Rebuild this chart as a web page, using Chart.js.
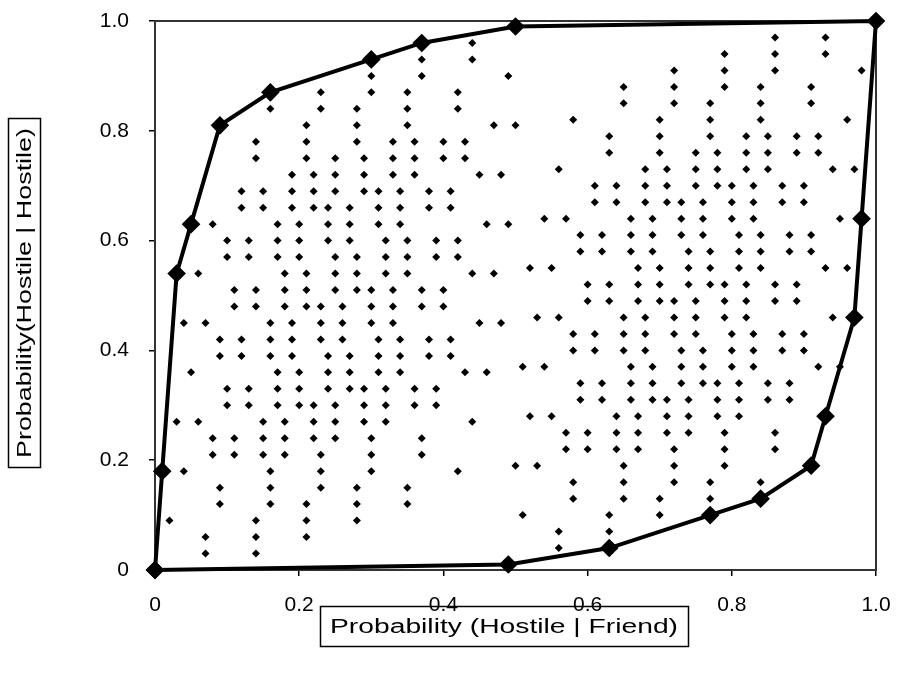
<!DOCTYPE html>
<html lang="en">
<head>
  <meta charset="UTF-8">
  <title>ROC points and convex hull</title>
  <script src="https://cdn.jsdelivr.net/npm/chart.js"></script>
  <style>
    body { margin: 0; background: #fff; }
    #wrap { width: 899px; height: 677px; position: relative; }
  </style>
</head>
<body>
  <div id="wrap"><canvas id="roc"></canvas></div>

  <script>
    // each row: one y level and the x values of the dots sitting on it
    const rowY = [0.97, 0.96, 0.94, 0.93, 0.91, 0.90, 0.88, 0.87, 0.85, 0.84, 0.82, 0.81, 0.79, 0.78,
      0.76, 0.75, 0.73, 0.72, 0.70, 0.69, 0.67, 0.66, 0.64, 0.63, 0.61, 0.60, 0.58, 0.57, 0.55, 0.54,
      0.52, 0.51, 0.49, 0.48, 0.46, 0.45, 0.43, 0.42, 0.40, 0.39, 0.37, 0.36, 0.34, 0.33, 0.31, 0.30,
      0.28, 0.27, 0.25, 0.24, 0.22, 0.21, 0.19, 0.18, 0.16, 0.15, 0.13, 0.12, 0.10, 0.09, 0.07, 0.06,
      0.04, 0.03];
    const rowX = [
      [0.86, 0.93],
      [0.44],
      [0.79, 0.86, 0.93],
      [0.37, 0.44],
      [0.72, 0.79, 0.86, 0.98],
      [0.30, 0.37, 0.49],
      [0.65, 0.72, 0.79, 0.84, 0.91],
      [0.23, 0.30, 0.35, 0.42],
      [0.65, 0.72, 0.77, 0.84, 0.91],
      [0.16, 0.23, 0.28, 0.35, 0.42],
      [0.58, 0.70, 0.77, 0.84, 0.96],
      [0.21, 0.28, 0.35, 0.47, 0.50],
      [0.63, 0.70, 0.77, 0.82, 0.85, 0.89, 0.92],
      [0.14, 0.21, 0.28, 0.33, 0.36, 0.40, 0.43],
      [0.63, 0.70, 0.75, 0.78, 0.82, 0.85, 0.89, 0.92],
      [0.14, 0.21, 0.25, 0.29, 0.33, 0.36, 0.40, 0.43],
      [0.56, 0.68, 0.71, 0.75, 0.78, 0.82, 0.85, 0.94, 0.97],
      [0.19, 0.22, 0.25, 0.29, 0.33, 0.36, 0.45, 0.48],
      [0.61, 0.64, 0.68, 0.71, 0.75, 0.78, 0.80, 0.83, 0.87, 0.90],
      [0.12, 0.15, 0.19, 0.22, 0.25, 0.29, 0.31, 0.34, 0.38, 0.41],
      [0.61, 0.64, 0.68, 0.71, 0.73, 0.76, 0.80, 0.83, 0.87, 0.90],
      [0.12, 0.15, 0.19, 0.22, 0.24, 0.27, 0.31, 0.34, 0.38, 0.41],
      [0.54, 0.57, 0.66, 0.69, 0.73, 0.76, 0.80, 0.83, 0.95],
      [0.08, 0.17, 0.20, 0.24, 0.27, 0.31, 0.34, 0.46, 0.49],
      [0.59, 0.62, 0.66, 0.69, 0.73, 0.76, 0.81, 0.84, 0.88, 0.91],
      [0.10, 0.13, 0.17, 0.20, 0.24, 0.27, 0.32, 0.35, 0.39, 0.42],
      [0.59, 0.62, 0.66, 0.69, 0.74, 0.77, 0.81, 0.84, 0.88, 0.91],
      [0.10, 0.13, 0.17, 0.20, 0.25, 0.28, 0.32, 0.35, 0.39, 0.42],
      [0.52, 0.55, 0.67, 0.70, 0.74, 0.77, 0.81, 0.84, 0.93, 0.96],
      [0.06, 0.18, 0.21, 0.25, 0.28, 0.32, 0.35, 0.44, 0.47],
      [0.60, 0.63, 0.67, 0.70, 0.74, 0.77, 0.79, 0.82, 0.86, 0.89],
      [0.11, 0.14, 0.18, 0.21, 0.25, 0.28, 0.30, 0.33, 0.37, 0.40],
      [0.60, 0.63, 0.67, 0.70, 0.72, 0.75, 0.79, 0.82, 0.86, 0.89],
      [0.11, 0.14, 0.18, 0.21, 0.23, 0.26, 0.30, 0.33, 0.37, 0.40],
      [0.53, 0.56, 0.65, 0.68, 0.72, 0.75, 0.79, 0.82, 0.94],
      [0.04, 0.07, 0.16, 0.19, 0.23, 0.26, 0.30, 0.33, 0.45, 0.48],
      [0.58, 0.61, 0.65, 0.68, 0.72, 0.75, 0.80, 0.83, 0.87, 0.90],
      [0.09, 0.12, 0.16, 0.19, 0.23, 0.26, 0.31, 0.34, 0.38, 0.41],
      [0.58, 0.61, 0.65, 0.68, 0.73, 0.76, 0.80, 0.83, 0.87, 0.90],
      [0.09, 0.12, 0.16, 0.19, 0.24, 0.27, 0.31, 0.34, 0.38, 0.41],
      [0.51, 0.54, 0.66, 0.69, 0.73, 0.76, 0.80, 0.83, 0.92, 0.95],
      [0.05, 0.17, 0.20, 0.24, 0.27, 0.31, 0.34, 0.43, 0.46],
      [0.59, 0.62, 0.66, 0.69, 0.73, 0.76, 0.78, 0.81, 0.85, 0.88],
      [0.10, 0.13, 0.17, 0.20, 0.24, 0.27, 0.29, 0.32, 0.36, 0.39],
      [0.59, 0.62, 0.66, 0.69, 0.71, 0.74, 0.78, 0.81, 0.85, 0.88],
      [0.10, 0.13, 0.17, 0.20, 0.22, 0.25, 0.29, 0.32, 0.36, 0.39],
      [0.52, 0.55, 0.64, 0.67, 0.71, 0.74, 0.78, 0.81],
      [0.03, 0.06, 0.15, 0.18, 0.22, 0.25, 0.29, 0.32, 0.44],
      [0.57, 0.60, 0.64, 0.67, 0.71, 0.74, 0.79, 0.86],
      [0.08, 0.11, 0.15, 0.18, 0.22, 0.25, 0.30, 0.37],
      [0.57, 0.60, 0.64, 0.67, 0.72, 0.79, 0.86],
      [0.08, 0.11, 0.15, 0.18, 0.23, 0.30, 0.37],
      [0.50, 0.53, 0.65, 0.72, 0.79],
      [0.04, 0.16, 0.23, 0.30, 0.42],
      [0.58, 0.65, 0.72, 0.77, 0.84],
      [0.09, 0.16, 0.23, 0.28, 0.35],
      [0.58, 0.65, 0.70, 0.77],
      [0.09, 0.16, 0.21, 0.28, 0.35],
      [0.51, 0.63, 0.70],
      [0.02, 0.14, 0.21, 0.28],
      [0.56, 0.63],
      [0.07, 0.14, 0.21],
      [0.56],
      [0.07, 0.14]
    ];

    // convex hull, walked round from the origin
    const hullX = [0, 0.01, 0.03, 0.05, 0.09, 0.16, 0.30, 0.37, 0.50, 1.00, 0.98, 0.97, 0.93, 0.91, 0.84, 0.77, 0.63, 0.49, 0];
    const hullY = [0, 0.18, 0.54, 0.63, 0.81, 0.87, 0.93, 0.96, 0.99, 1.00, 0.64, 0.46, 0.28, 0.19, 0.13, 0.10, 0.04, 0.01, 0];

    const tickLabels = ['0', '0.2', '0.4', '0.6', '0.8', '1.0'];
    const xTitle = 'Probability (Hostile | Friend)';
    const yTitle = 'Probability(Hostile | Hostile)';

    const dots = rowY.flatMap((y, i) => rowX[i].map(x => ({ x, y })));
    const hull = hullX.map((x, i) => ({ x, y: hullY[i] }));

    Chart.defaults.font.family = '"Liberation Sans", Arial, sans-serif';
    Chart.defaults.font.size = 21;
    Chart.defaults.color = '#000';

    // text stretched sideways to a given length, like the old chart's titles
    function wideText(ctx, text, cx, cy, len) {
      const w = ctx.measureText(text).width;
      ctx.save();
      ctx.translate(cx, cy);
      ctx.scale(len / w, 1);
      ctx.fillText(text, 0, 0);
      ctx.restore();
    }

    // frame round the plot area and the boxed axis titles
    const frame = {
      id: 'frame',
      beforeDatasetsDraw(chart) {
        const { ctx, chartArea: a } = chart;
        ctx.save();
        ctx.strokeStyle = '#333';
        ctx.lineWidth = 2;
        ctx.strokeRect(a.left, a.top, a.right - a.left, a.bottom - a.top);
        ctx.restore();
      },
      afterDraw(chart) {
        const ctx = chart.ctx;
        ctx.save();
        ctx.font = '20px "Liberation Sans", Arial, sans-serif';
        ctx.fillStyle = '#000';
        ctx.strokeStyle = '#000';
        ctx.lineWidth = 1.5;
        ctx.textAlign = 'center';
        ctx.textBaseline = 'middle';
        ctx.strokeRect(320.5, 606.5, 368, 40);
        wideText(ctx, xTitle, 504, 627, 348);
        ctx.strokeRect(8.5, 118.5, 32, 349);
        ctx.translate(25, 293);
        ctx.rotate(-Math.PI / 2);
        wideText(ctx, yTitle, 0, 0, 330);
        ctx.restore();
      }
    };

    const axis = (pad, fit) => ({
      type: 'linear',
      min: 0,
      max: 1,
      afterFit: fit,
      border: { display: true, color: '#000', width: 2 },
      grid: { drawOnChartArea: false, drawTicks: true, tickLength: 6, color: '#000', lineWidth: 1.5 },
      ticks: {
        stepSize: 0.2,
        padding: pad,
        maxRotation: 0,
        callback: (v, i) => tickLabels[i]
      }
    });

    new Chart(document.getElementById('roc'), {
      type: 'scatter',
      data: {
        datasets: [
          {
            label: 'classifiers',
            data: dots,
            pointStyle: 'rectRot',
            radius: 4,
            backgroundColor: '#000',
            borderColor: '#000',
            borderWidth: 0
          },
          {
            label: 'hull',
            data: hull,
            showLine: true,
            borderColor: '#000',
            borderWidth: 4,
            pointStyle: 'rectRot',
            radius: 6.5,
            pointBackgroundColor: '#000',
            pointBorderColor: '#000',
            clip: false
          }
        ]
      },
      options: {
        responsive: true,
        maintainAspectRatio: false,
        animation: false,
        layout: { padding: { top: 21, right: 23, left: 0, bottom: 0 } },
        plugins: { legend: { display: false }, tooltip: { enabled: false } },
        scales: {
          x: axis(17, s => { s.height = 107; s.paddingLeft = 0; s.paddingRight = 0; }),
          y: axis(20, s => { s.width = 155; s.paddingTop = 0; s.paddingBottom = 0; })
        }
      },
      plugins: [frame]
    });
  </script>
</body>
</html>
